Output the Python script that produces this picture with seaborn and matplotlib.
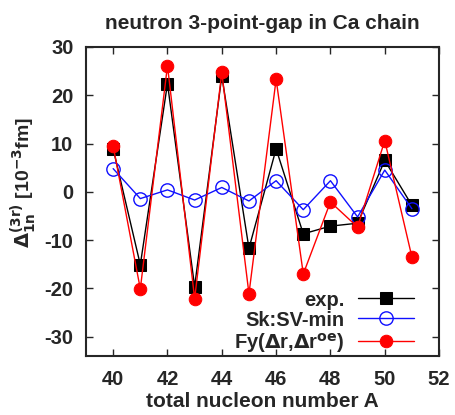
import matplotlib
matplotlib.use("Agg")
import matplotlib.pyplot as plt
import seaborn as sns
import pandas as pd

A = [40, 41, 42, 43, 44, 45, 46, 47, 48, 49, 50, 51]
exp_vals = [8.9, -15.1, 22.4, -19.6, 24.0, -11.7, 8.9, -8.7, -7.1, -6.5, 6.5, -2.8]
svmin_vals = [4.8, -1.4, 0.4, -1.7, 0.9, -1.9, 2.3, -3.7, 2.3, -5.2, 4.5, -3.5]
fy_vals = [9.5, -20.1, 26.1, -22.1, 24.7, -21.1, 23.3, -17.0, -2.1, -7.3, 10.6, -13.5]
labels = ["exp.", "Sk:SV-min", r"Fy($\mathrm{\Delta}$r,$\mathrm{\Delta}$r$^{\mathbf{oe}}$)"]

sns.set_style("ticks")
plt.rcParams['font.family'] = ['Liberation Sans', 'DejaVu Sans']
plt.rcParams['font.weight'] = 'bold'
plt.rcParams['mathtext.default'] = 'bf'
plt.rcParams['axes.unicode_minus'] = False

fig = plt.figure(figsize=(4.55, 4.15), dpi=100)
ax = fig.add_axes([0.189, 0.142, 0.776, 0.745])

df_exp = pd.DataFrame({"A": A, "v": exp_vals})
df_sv = pd.DataFrame({"A": A, "v": svmin_vals})
df_fy = pd.DataFrame({"A": A, "v": fy_vals})

sns.lineplot(data=df_exp, x="A", y="v", ax=ax, color="black", lw=1.0,
             marker="s", markersize=8, markeredgecolor="black",
             markerfacecolor="black", label=labels[0], zorder=2)
sns.lineplot(data=df_sv, x="A", y="v", ax=ax, color="#1010ff", lw=1.0,
             marker="o", markersize=9.6, markeredgecolor="#1010ff",
             markerfacecolor="none", markeredgewidth=1.0, label=labels[1], zorder=3)
sns.lineplot(data=df_fy, x="A", y="v", ax=ax, color="#ff0000", lw=1.0,
             marker="o", markersize=9, markeredgecolor="#ff0000",
             markerfacecolor="#ff0000", label=labels[2], zorder=4)

ax.set_xlim(39, 52)
ax.set_ylim(-34, 30)
ax.set_xticks(range(40, 53, 2))
ax.set_yticks(range(-30, 31, 10))
ax.tick_params(direction="in", top=True, right=True, length=5, width=1,
               labelsize=14.5)
ax.tick_params(axis="y", pad=9)
ax.tick_params(axis="x", pad=10)
for lab in ax.get_xticklabels() + ax.get_yticklabels():
    lab.set_fontweight("bold")
for s in ax.spines.values():
    s.set_linewidth(1.5)
    s.set_visible(True)

ax.set_title("neutron 3-point-gap in Ca chain", fontsize=15, fontweight="bold", pad=13)
ax.set_xlabel("total nucleon number A", fontsize=15, fontweight="bold", labelpad=2)
ax.set_ylabel(r"$\mathrm{\Delta}_{1n}^{(3r)}$ [10$^{-3}$fm]", fontsize=14, fontweight="bold")
ax.yaxis.set_label_coords(-0.135, 0.56)

leg = ax.legend(loc="lower right", frameon=False, markerfirst=False,
                fontsize=14.5, handlelength=2.8, handletextpad=0.65,
                labelspacing=0.05, borderaxespad=0.0, borderpad=0.0,
                bbox_to_anchor=(0.929, 0.005))
for t in leg.get_texts():
    t.set_fontweight("bold")

fig.savefig("out.png", dpi=100)
